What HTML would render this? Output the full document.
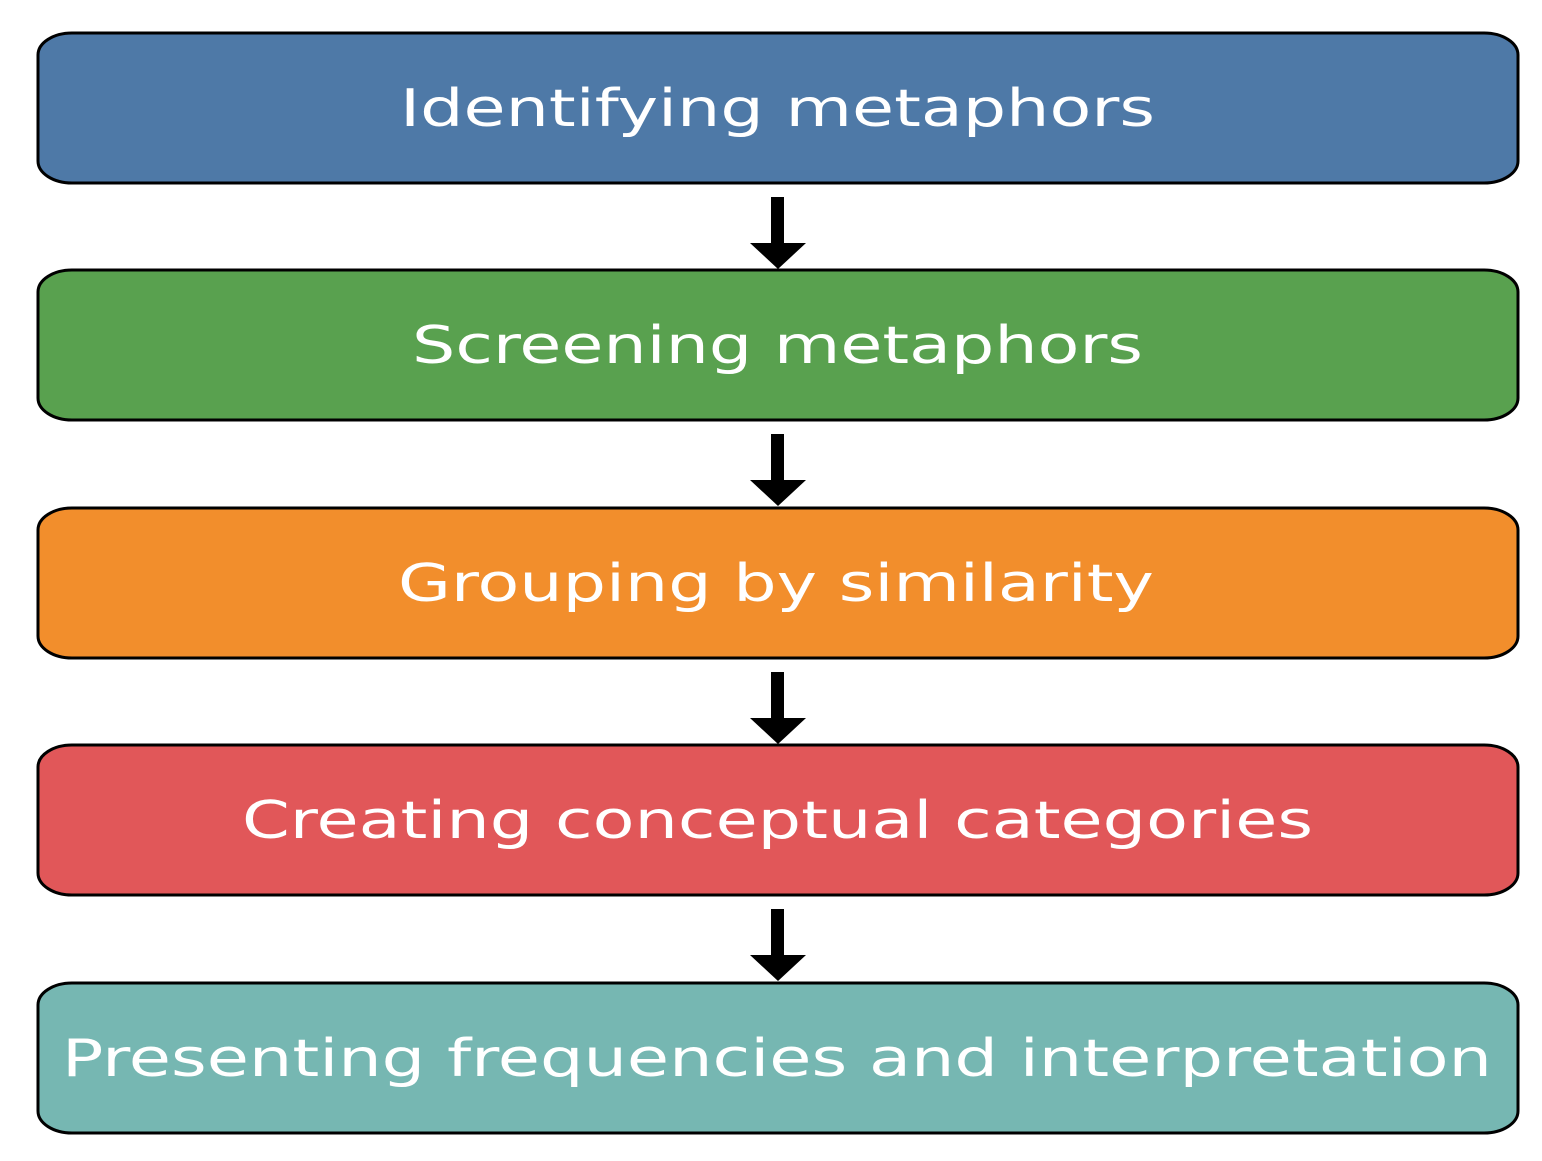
<!DOCTYPE html>
<html><head><meta charset="utf-8"><style>html,body{margin:0;padding:0;background:#fff}svg{display:block}</style></head>
<body>
<svg width="1542" height="1161" viewBox="0 0 1542 1161" xmlns="http://www.w3.org/2000/svg">
<defs>
<g id="arr"><rect x="771" y="0" width="13" height="50" fill="#000"/><polygon points="750,46 806,46 778,72" fill="#000"/></g>
</defs>
<g stroke="#000" stroke-width="3" font-family="'DejaVu Sans','Liberation Sans',sans-serif" font-size="50" fill="#fff">
<rect x="38" y="33" width="1480" height="150" rx="34" ry="22" fill="#4e79a7"/>
<rect x="38" y="270" width="1480" height="150" rx="34" ry="22" fill="#59a14f"/>
<rect x="38" y="508" width="1480" height="150" rx="34" ry="22" fill="#f28e2c"/>
<rect x="38" y="745" width="1480" height="150" rx="34" ry="22" fill="#e15759"/>
<rect x="38" y="983" width="1480" height="150" rx="34" ry="22" fill="#76b7b2"/>
</g>
<use href="#arr" transform="translate(0,197)"/>
<use href="#arr" transform="translate(0,434)"/>
<use href="#arr" transform="translate(0,672)"/>
<use href="#arr" transform="translate(0,909)"/>
<g font-family="'DejaVu Sans','Liberation Sans',sans-serif" font-size="52" fill="#fff">
<text x="400" y="126" textLength="755" lengthAdjust="spacingAndGlyphs">Identifying metaphors</text>
<text x="412" y="363" textLength="731" lengthAdjust="spacingAndGlyphs">Screening metaphors</text>
<text x="398" y="601" textLength="756" lengthAdjust="spacingAndGlyphs">Grouping by similarity</text>
<text x="242" y="838" textLength="1071" lengthAdjust="spacingAndGlyphs">Creating conceptual categories</text>
<text x="62" y="1076" textLength="1430" lengthAdjust="spacingAndGlyphs">Presenting frequencies and interpretation</text>
</g>
</svg>
</body></html>
